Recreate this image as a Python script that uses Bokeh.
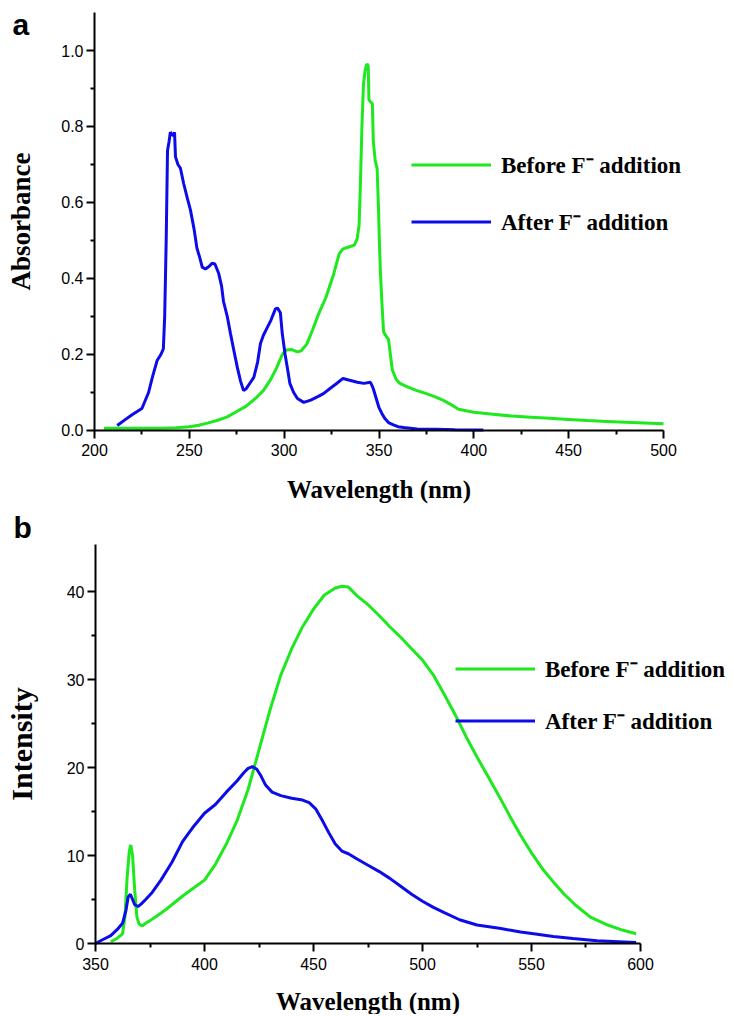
from bokeh.plotting import figure
from bokeh.models import Range1d, FixedTicker, Legend, LegendItem, Label, PrintfTickFormatter
from bokeh.layouts import column
from bokeh.embed import file_html
from bokeh.resources import INLINE

# ---------------- data: panel a (absorbance) ----------------
abs_before_nm = [205, 215, 225, 235, 243, 250, 255, 260, 265, 270, 275, 280, 285, 289, 293, 296, 299,
                 301, 304, 307, 309, 312, 315, 318, 322, 326, 329, 331, 334, 337, 338.5, 339.5, 340.2,
                 341, 341.8, 342.6, 343.3, 343.8, 344.3, 344.7, 345.5, 346.5, 347, 348, 349, 349.7,
                 350.3, 350.8, 351.6, 352.4, 353.5, 355, 356, 357, 359, 361, 365, 370, 375, 380, 384,
                 388, 392, 400, 410, 420, 430, 440, 450, 460, 470, 480, 490, 500]
abs_before = [0.006, 0.006, 0.006, 0.006, 0.007, 0.010, 0.014, 0.020, 0.027, 0.036, 0.050, 0.064, 0.085,
              0.105, 0.135, 0.165, 0.200, 0.212, 0.213, 0.207, 0.210, 0.228, 0.265, 0.305, 0.35, 0.41,
              0.465, 0.478, 0.483, 0.488, 0.505, 0.54, 0.65, 0.80, 0.91, 0.945, 0.960, 0.965, 0.960,
              0.87, 0.865, 0.86, 0.76, 0.71, 0.69, 0.59, 0.48, 0.41, 0.33, 0.26, 0.25, 0.24, 0.20, 0.16,
              0.135, 0.124, 0.115, 0.105, 0.097, 0.088, 0.079, 0.068, 0.056, 0.048, 0.043, 0.038, 0.035,
              0.032, 0.029, 0.026, 0.024, 0.022, 0.020, 0.018]

abs_after_nm = [212, 216, 220, 225, 228.5, 230.5, 233, 235, 236.3, 237, 237.8, 238.5, 239.3, 240, 240.8,
                241.6, 242.2, 242.7, 244, 245.3, 247, 249, 250.6, 252.5, 254, 255.5, 256.8, 258.5, 260.5,
                262, 263.5, 265.5, 267, 268, 270, 271.7, 273.5, 275.3, 277, 278.6, 280, 282, 284, 286,
                287.5, 289, 291, 293, 295.4, 296.5, 298, 299, 300.5, 302, 303, 305, 307, 310.3, 314, 318,
                320.7, 324, 328, 331, 334, 338.6, 342, 345.5, 347, 348.5, 350, 351.5, 353, 355, 357.6,
                360, 363, 370, 380, 390, 405]
abs_after = [0.013, 0.028, 0.042, 0.058, 0.10, 0.14, 0.184, 0.20, 0.215, 0.30, 0.50, 0.737, 0.76, 0.785,
             0.78, 0.776, 0.785, 0.72, 0.70, 0.69, 0.65, 0.61, 0.58, 0.53, 0.48, 0.455, 0.43, 0.425,
             0.432, 0.44, 0.438, 0.413, 0.38, 0.34, 0.30, 0.255, 0.21, 0.166, 0.13, 0.105, 0.11, 0.125,
             0.14, 0.18, 0.229, 0.25, 0.27, 0.29, 0.32, 0.322, 0.31, 0.255, 0.20, 0.155, 0.124, 0.10,
             0.084, 0.074, 0.08, 0.09, 0.097, 0.11, 0.125, 0.137, 0.133, 0.127, 0.124, 0.127, 0.11,
             0.085, 0.06, 0.045, 0.032, 0.021, 0.015, 0.01, 0.008, 0.004, 0.003, 0.002, 0.001]

# ---------------- data: panel b (fluorescence intensity) ----------------
fl_before_nm = [357, 360, 362.4, 363.5, 364.5, 365.5, 366.2, 367, 368, 369, 370, 371.5, 373, 375, 378,
                382, 386, 390, 395, 400, 405, 410, 415, 420, 425, 430, 435, 440, 445, 450, 455, 460,
                463, 466, 470, 475, 480, 485, 490, 495, 500, 505, 510, 515, 520, 525, 530, 535, 540,
                545, 550, 555, 560, 565, 570, 577, 585, 592, 598]
fl_before = [0.2, 0.6, 1.1, 3.0, 7.5, 10.5, 11.2, 10.0, 6.0, 3.0, 2.2, 2.0, 2.3, 2.6, 3.1, 3.8, 4.6, 5.4,
             6.3, 7.2, 9.0, 11.3, 14.0, 17.5, 22.0, 26.5, 30.5, 33.5, 36.0, 38.0, 39.6, 40.4, 40.6, 40.5,
             39.5, 38.5, 37.3, 36.0, 34.8, 33.5, 32.2, 30.5, 28.3, 26.0, 23.5, 21.2, 19.0, 16.8, 14.5,
             12.3, 10.3, 8.5, 7.0, 5.6, 4.4, 3.0, 2.1, 1.5, 1.1]

fl_after_nm = [350, 353, 357, 360, 362.4, 364, 365, 366, 367, 368, 369.5, 371, 373, 376, 380, 385, 390,
               395, 400, 405, 410, 415, 418, 420, 422, 424, 426, 428, 431, 435, 440, 445, 448, 451, 454,
               457, 460, 463, 466, 470, 475, 480, 485, 490, 495, 500, 505, 510, 517, 525, 536, 545, 551,
               560, 569, 580, 590, 598]
fl_after = [0.0, 0.4, 0.9, 1.6, 2.3, 3.8, 5.3, 5.6, 5.0, 4.4, 4.2, 4.5, 5.0, 5.8, 7.2, 9.2, 11.6, 13.3,
            14.8, 15.8, 17.2, 18.5, 19.4, 19.9, 20.1, 19.8, 19.0, 18.0, 17.2, 16.8, 16.5, 16.3, 16.0,
            15.3, 14.0, 12.6, 11.3, 10.5, 10.2, 9.6, 8.9, 8.2, 7.4, 6.5, 5.6, 4.8, 4.1, 3.5, 2.7, 2.1,
            1.7, 1.3, 1.1, 0.8, 0.57, 0.3, 0.2, 0.1]

series_labels = ["Before F\u207b addition", "After F\u207b addition"]

a_xticks = [200, 250, 300, 350, 400, 450, 500]
a_xminor = [225, 275, 325, 375, 425, 475]
a_yticks = [0.0, 0.2, 0.4, 0.6, 0.8, 1.0]
a_yminor = [0.1, 0.3, 0.5, 0.7, 0.9]
b_xticks = [350, 400, 450, 500, 550, 600]
b_xminor = [375, 425, 475, 525, 575]
b_yticks = [0, 10, 20, 30, 40]
b_yminor = [5, 15, 25, 35]

SERIF = "Liberation Serif"
SANS = "Liberation Sans"
GREEN = "#1ee81e"
BLUE = "#0c0ce8"


def style(p, xt, xm, yt, ym, xb, yb, xlabel, ylabel, ylab_size, ystand, xstand, yfmt):
    p.xaxis.ticker = FixedTicker(ticks=xt, minor_ticks=xm)
    p.yaxis.ticker = FixedTicker(ticks=yt, minor_ticks=ym)
    p.yaxis.formatter = PrintfTickFormatter(format=yfmt)
    p.xaxis.bounds = xb
    p.yaxis.bounds = yb
    p.yaxis.fixed_location = xb[0]
    p.xaxis.fixed_location = yb[0]
    p.xgrid.visible = False
    p.ygrid.visible = False
    p.outline_line_color = None
    p.xaxis.axis_label = xlabel
    p.yaxis.axis_label = ylabel
    for ax in (p.xaxis, p.yaxis):
        ax.axis_line_width = 2
        ax.axis_line_color = "black"
        ax.major_tick_line_width = 2
        ax.major_tick_line_color = "black"
        ax.minor_tick_line_width = 2
        ax.minor_tick_line_color = "black"
        ax.major_tick_out = 8
        ax.major_tick_in = 0
        ax.minor_tick_out = 4
        ax.minor_tick_in = 0
        ax.major_label_text_font = SANS
        ax.major_label_text_font_size = "16px"
        ax.major_label_text_color = "black"
        ax.axis_label_text_font = SERIF
        ax.axis_label_text_font_style = "bold"
        ax.axis_label_text_color = "black"
    p.xaxis.major_label_standoff = 6
    p.yaxis.major_label_standoff = 3
    p.xaxis.axis_label_text_font_size = "25px"
    p.yaxis.axis_label_text_font_size = ylab_size
    p.xaxis.axis_label_standoff = xstand
    p.yaxis.axis_label_standoff = ystand


def add_legend(p, r1, r2, loc, spacing):
    leg = Legend(items=[LegendItem(label=series_labels[0], renderers=[r1]),
                        LegendItem(label=series_labels[1], renderers=[r2])],
                 location=loc, glyph_width=80, glyph_height=25, label_height=25,
                 label_standoff=10, spacing=spacing, padding=0, margin=0,
                 border_line_alpha=0, background_fill_alpha=0,
                 label_text_font=SERIF, label_text_font_style="bold",
                 label_text_font_size="23px", label_text_color="black")
    p.add_layout(leg)


# ---------------- panel a ----------------
p1 = figure(frame_width=734, frame_height=510, x_range=Range1d(150.44, 537.43),
            y_range=Range1d(-0.21053, 1.13158), output_backend="svg", toolbar_location=None,
            min_border_left=0, min_border_right=0, min_border_top=0, min_border_bottom=0)
style(p1, a_xticks, a_xminor, a_yticks, a_yminor, (200, 500), (0, 1.1),
      "Wavelength (nm)", "Absorbance", "27px", 22, 16, "%.1f")
g1 = p1.line(abs_before_nm, abs_before, line_color=GREEN, line_width=3)
b1 = p1.line(abs_after_nm, abs_after, line_color=BLUE, line_width=3)
add_legend(p1, g1, b1, (411, 273), 25)
p1.add_layout(Label(x=12, y=486, x_units="screen", y_units="screen", text="a",
                    text_font=SANS, text_font_style="bold", text_font_size="30px",
                    text_baseline="alphabetic", text_color="black"))

# ---------------- panel b ----------------
p2 = figure(frame_width=734, frame_height=504, x_range=Range1d(306.42, 643.12),
            y_range=Range1d(-8.068, 49.205), output_backend="svg", toolbar_location=None,
            min_border_left=0, min_border_right=0, min_border_top=0, min_border_bottom=0)
style(p2, b_xticks, b_xminor, b_yticks, b_yminor, (350, 600), (0, 45.3),
      "Wavelength (nm)", "Intensity", "30px", 26, 15, "%d")
g2 = p2.line(fl_before_nm, fl_before, line_color=GREEN, line_width=3)
b2 = p2.line(fl_after_nm, fl_after, line_color=BLUE, line_width=3)
add_legend(p2, g2, b2, (455, 278), 20)
p2.add_layout(Label(x=13, y=487, x_units="screen", y_units="screen", text="b",
                    text_font=SANS, text_font_style="bold", text_font_size="30px",
                    text_baseline="alphabetic", text_color="black"))

layout = column(p1, p2, spacing=0)
open("out.html", "w").write(file_html(layout, INLINE))
